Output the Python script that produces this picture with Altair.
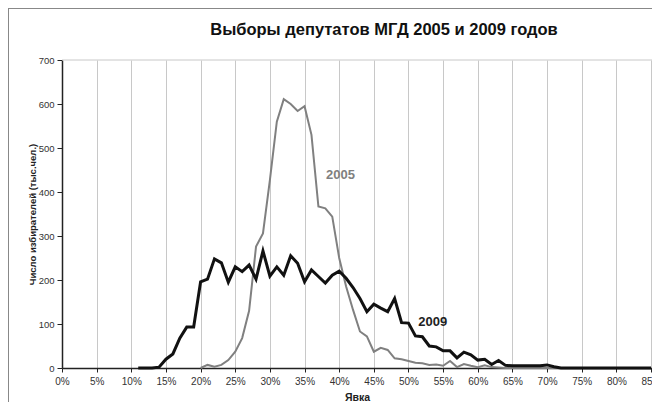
import altair as alt
import pandas as pd

# --- data ---
pct_2009 = list(range(11, 86))
val_2009 = [0, 0, 0, 2, 20, 32, 68, 93, 93, 196, 202, 248, 239, 195, 230, 219, 234, 202, 266, 209,
            230, 211, 255, 238, 196, 223, 208, 193, 211, 220, 204, 183, 158, 128, 145, 136, 128, 158,
            103, 102, 73, 71, 50, 48, 39, 39, 23, 36, 30, 18, 20, 8, 17, 6, 5, 5, 5, 5, 5, 7, 3,
            0, 0, 0, 0, 0, 0, 0, 0, 0, 0, 0, 0, 0, 0]

pct_2005 = list(range(20, 86))
val_2005 = [0, 7, 3, 7, 18, 37, 68, 130, 276, 306, 427, 560, 611, 600, 584, 595, 530, 367, 363, 344,
            250, 185, 132, 83, 72, 37, 46, 41, 22, 20, 16, 12, 11, 7, 8, 5, 16, 2, 9, 5, 2, 6, 2, 1,
            0, 0, 0, 0, 0, 0, 0, 0, 0, 0, 0, 0, 0, 0, 0, 0, 0, 0, 0, 0, 0, 0]

x_ticks = list(range(0, 90, 5))
y_ticks = list(range(0, 800, 100))

series_labels = ["2005", "2009"]
label_x = [40.2, 53.5]
label_y = [438, 105]

title_text = "Выборы депутатов МГД 2005 и 2009 годов"
x_title = "Явка"
y_title = "Число избирателей (тыс.чел.)"

FONT = "Liberation Sans"

df09 = pd.DataFrame({"pct": pct_2009, "v": val_2009})
df05 = pd.DataFrame({"pct": pct_2005, "v": val_2005})
dflab = pd.DataFrame({"pct": label_x, "v": label_y, "t": series_labels})

xscale = alt.Scale(domain=[0, 85.14], nice=False, zero=False)
yscale = alt.Scale(domain=[0, 700], nice=False)

xaxis = alt.Axis(values=x_ticks, labelExpr="datum.value + '%'", grid=True, gridColor="#c8c8c8",
                 gridWidth=1, domainColor="#222222", domainWidth=1.5, tickColor="#222222", tickSize=4,
                 labelFont=FONT, labelFontSize=10, labelColor="#333333", labelPadding=4,
                 labelOverlap=False, labelFlush=False,
                 title=x_title, titleFont=FONT, titleFontSize=10.5, titleFontWeight="bold",
                 titleColor="#222222", titleY=29, titleBaseline="middle")
yaxis = alt.Axis(values=y_ticks, grid=False, domainColor="#222222", domainWidth=1.5,
                 tickColor="#222222", tickSize=5, labelFont=FONT, labelFontSize=9.5,
                 labelColor="#333333", labelPadding=3, labelOverlap=False,
                 title=y_title, titleFont=FONT, titleFontSize=9.5, titleFontWeight="bold",
                 titleColor="#222222", titleX=-30, titleY=154, titleAngle=-90,
                 titleBaseline="middle", titleAlign="center")

X = alt.X("pct:Q", scale=xscale, axis=xaxis)
Y = alt.Y("v:Q", scale=yscale, axis=yaxis)

base05 = alt.Chart(df05).mark_line(color="#808080", strokeWidth=2).encode(x=X, y=Y)
base09 = alt.Chart(df09).mark_line(color="#111111", strokeWidth=3).encode(x=X, y=Y)
top_line = alt.Chart(pd.DataFrame({"v": [700]})).mark_rule(color="#c8c8c8", strokeWidth=1).encode(y=Y)
labels = alt.Chart(dflab).mark_text(font=FONT, fontSize=13, fontWeight="bold",
                                    align="center", baseline="middle").encode(
    x=X, y=Y, text="t:N",
    color=alt.Color("t:N", scale=alt.Scale(domain=series_labels, range=["#808080", "#222222"]),
                    legend=None),
)
title_mark = alt.Chart(pd.DataFrame({"t": [title_text]})).mark_text(
    font=FONT, fontSize=16.5, fontWeight="bold", color="#111111", align="center", baseline="middle"
).encode(text="t:N", x=alt.value(322), y=alt.value(-30))
frame_left = alt.Chart().mark_rule(color="#888888", strokeWidth=1).encode(
    x=alt.value(-53.5), y=alt.value(-52), y2=alt.value(400))
frame_top = alt.Chart().mark_rule(color="#888888", strokeWidth=1).encode(
    x=alt.value(-54), x2=alt.value(700), y=alt.value(-51.5))

chart = alt.layer(top_line, base05, base09, labels, title_mark, frame_left, frame_top).properties(
    width=590, height=308,
    autosize=alt.AutoSizeParams(type="none"),
    padding={"left": 54, "top": 52, "right": 0, "bottom": 34},
).configure_view(stroke=None)

chart.save("out.html", embed_options={"renderer": "svg", "actions": False})
